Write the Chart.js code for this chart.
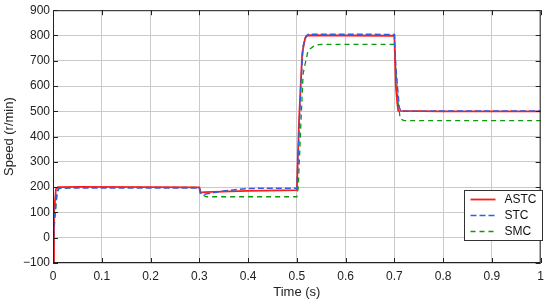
<!DOCTYPE html>
<html>
<head>
<meta charset="utf-8">
<script src="https://cdn.jsdelivr.net/npm/chart.js@4"></script>
<style>
  html, body { margin: 0; padding: 0; background: #fff; }
  #wrap { width: 550px; height: 305px; }
</style>
</head>
<body>
<div id="wrap"><canvas id="myChart"></canvas></div>
<script>
// time (s) / speed (r/min)
var astcT = [0, 0.002, 0.006, 0.010, 0.05, 0.2, 0.3, 0.302, 0.31, 0.4, 0.5, 0.5045, 0.511, 0.517, 0.522, 0.6, 0.7, 0.703, 0.706, 0.708, 0.8, 1.0];
var astcY = [-100, 95, 192, 200, 201, 200, 199, 178, 180, 185, 188, 463, 729, 789, 801, 800, 799, 600, 531, 502, 500, 500];

var stcT = [0, 0.002, 0.009, 0.013, 0.05, 0.2, 0.3, 0.303, 0.31, 0.35, 0.4, 0.5, 0.503, 0.508, 0.513, 0.519, 0.524, 0.6, 0.7, 0.703, 0.71, 0.7135, 0.8, 1.0];
var stcY = [-100, 75, 186, 196, 197, 197, 197, 175, 172, 185, 195, 196, 330, 600, 760, 798, 805, 805, 804, 675, 516, 500, 501, 501];

var smcT = [0, 0.003, 0.008, 0.012, 0.05, 0.2, 0.3, 0.305, 0.315, 0.4, 0.5, 0.503, 0.5085, 0.513, 0.523, 0.537, 0.55, 0.6, 0.7, 0.703, 0.708, 0.712, 0.72, 0.8, 1.0];
var smcY = [-100, 50, 170, 195, 199, 199, 199, 170, 162, 162, 162, 200, 463, 650, 741, 761, 765, 765, 765, 662, 530, 470, 463, 463, 463];

var seriesNames = ['ASTC', 'STC', 'SMC'];
var xTicks = [0, 0.1, 0.2, 0.3, 0.4, 0.5, 0.6, 0.7, 0.8, 0.9, 1];
var yTicks = [-100, 0, 100, 200, 300, 400, 500, 600, 700, 800, 900];

function pts(t, y) {
  return t.map(function (v, i) { return { x: v, y: y[i] }; });
}

var FONT = "'Liberation Sans', Arial, sans-serif";

// box + inward ticks like matlab, and legend inside the plot
var frame = {
  id: 'frame',
  afterDraw: function (chart) {
    var c = chart.ctx, a = chart.chartArea;
    var xs = chart.scales.x, ys = chart.scales.y;
    c.save();
    c.strokeStyle = '#222';
    c.lineWidth = 1;
    c.strokeRect(a.left + 0.5, a.top + 0.5, a.right - a.left - 1, a.bottom - a.top - 1);
    c.beginPath();
    xTicks.forEach(function (v) {
      var px = Math.round(xs.getPixelForValue(v)) + 0.5;
      c.moveTo(px, a.bottom); c.lineTo(px, a.bottom - 5);
      c.moveTo(px, a.top); c.lineTo(px, a.top + 5);
    });
    yTicks.forEach(function (v) {
      var py = Math.round(ys.getPixelForValue(v)) + 0.5;
      c.moveTo(a.left, py); c.lineTo(a.left + 5, py);
      c.moveTo(a.right, py); c.lineTo(a.right - 5, py);
    });
    c.stroke();

    // legend
    var bx = 464.5, by = 190.5, bw = 78, bh = 50;
    c.fillStyle = '#fff';
    c.fillRect(bx, by, bw, bh);
    c.strokeStyle = '#333';
    c.strokeRect(bx, by, bw, bh);
    c.font = '12px ' + FONT;
    c.textBaseline = 'middle';
    chart.data.datasets.forEach(function (ds, i) {
      var ly = by + 9 + i * 16;
      c.strokeStyle = ds.borderColor;
      c.lineWidth = ds.borderWidth;
      c.setLineDash(ds.borderDash || []);
      c.beginPath();
      c.moveTo(bx + 6, ly); c.lineTo(bx + 31, ly);
      c.stroke();
      c.setLineDash([]);
      c.fillStyle = '#111';
      c.fillText(ds.label, bx + 40, ly);
    });
    c.restore();
  }
};

var ctx = document.getElementById('myChart');
var myChart = new Chart(ctx, {
  type: 'line',
  data: {
    datasets: [
      { label: seriesNames[0], data: pts(astcT, astcY), borderColor: '#ff1a1a', borderWidth: 1.8, order: 2 },
      { label: seriesNames[1], data: pts(stcT, stcY), borderColor: '#2f5fe0', borderWidth: 1.5, borderDash: [6, 3], order: 1 },
      { label: seriesNames[2], data: pts(smcT, smcY), borderColor: '#0a9a0a', borderWidth: 1.3, borderDash: [5, 4], order: 3 }
    ]
  },
  options: {
    responsive: true,
    maintainAspectRatio: false,
    animation: false,
    parsing: false,
    layout: { padding: { top: 9, right: 6, left: 0, bottom: 0 } },
    elements: { point: { radius: 0 }, line: { tension: 0 } },
    plugins: { legend: { display: false }, tooltip: { enabled: false } },
    scales: {
      x: {
        type: 'linear', min: 0, max: 1,
        afterBuildTicks: function (s) { s.ticks = xTicks.map(function (v) { return { value: v }; }); },
        afterFit: function (s) { s.height = 42; },
        grid: { color: '#cacaca', drawTicks: false },
        border: { display: false },
        ticks: {
          padding: 6, color: '#222', font: { family: FONT, size: 12 }, maxRotation: 0,
          callback: function (v) { return String(Number(v.toFixed(1))); }
        },
        title: { display: true, text: 'Time (s)', color: '#222', font: { family: FONT, size: 13 }, padding: { top: 0, bottom: 5 } }
      },
      y: {
        min: -100, max: 900,
        afterBuildTicks: function (s) { s.ticks = yTicks.map(function (v) { return { value: v }; }); },
        afterFit: function (s) { s.width = 53; },
        grid: { color: '#cacaca', drawTicks: false },
        border: { display: false },
        ticks: {
          padding: 3, color: '#222', font: { family: FONT, size: 12 },
          callback: function (v) { return String(v).replace('-', '\u2212'); }
        },
        title: { display: true, text: 'Speed (r/min)', color: '#222', font: { family: FONT, size: 13 }, padding: { top: 2, bottom: 0 } }
      }
    }
  },
  plugins: [frame]
});
</script>
</body>
</html>
